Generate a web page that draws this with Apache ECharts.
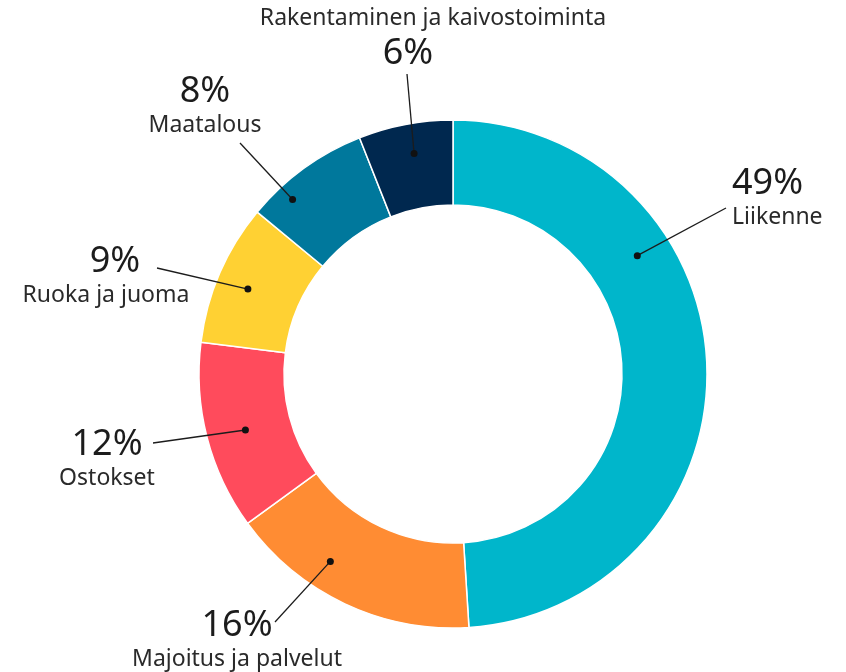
<!DOCTYPE html>
<html>
<head>
<meta charset="utf-8">
<script src="https://cdn.jsdelivr.net/npm/echarts@6/dist/echarts.min.js"></script>
<style>
  * { margin: 0; padding: 0; }
  body { background: #fff; }
  #main { width: 846px; height: 672px; }
</style>
</head>
<body>
<div id="main"></div>
<script>
  // data
  var categories = ['Liikenne', 'Majoitus ja palvelut', 'Ostokset', 'Ruoka ja juoma', 'Maatalous', 'Rakentaminen ja kaivostoiminta'];
  var shares = [49, 16, 12, 9, 8, 6];
  var colors = ['#00b6cb', '#ff8c33', '#ff4b5c', '#ffd133', '#00789c', '#00284f'];

  // label placement: leader dot as angle/radius on the ring, label box and line end in px
  var cx = 453, cy = 374;
  var labelPos = [
    { deg: 57.3, r: 219, end: [726, 208], x: 732, y: 198, align: 'left' },
    { deg: 213.2, r: 224, end: [275, 622], x: 237, y: 640, align: 'center' },
    { deg: 254.9, r: 215, end: [153, 443], x: 107, y: 459, align: 'center' },
    { deg: 292.5, r: 222, end: [157, 268], x: 106, y: 276, align: 'center' },
    { deg: 317.4, r: 237, end: [240, 143], x: 205, y: 106, align: 'center' },
    { deg: 350, r: 224, end: [407, 74], x: 433, y: 37, align: 'center' }
  ];

  var pieData = categories.map(function (name, i) {
    return { name: name, value: shares[i], itemStyle: { color: colors[i] } };
  });
  var dots = categories.map(function (name, i) {
    return { name: name, value: [labelPos[i].r, labelPos[i].deg] };
  });

  var chart = echarts.init(document.getElementById('main'));
  chart.setOption({
    animation: false,
    textStyle: { fontFamily: 'Noto Sans' },
    polar: { center: [cx, cy], radius: 254 },
    angleAxis: { type: 'value', min: 0, max: 360, startAngle: 90, clockwise: true, show: false },
    radiusAxis: { type: 'value', min: 0, max: 254, show: false },
    series: [
      {
        type: 'pie',
        center: [cx, cy],
        radius: [169, 254],
        startAngle: 90,
        clockwise: true,
        silent: true,
        itemStyle: { borderColor: '#fff', borderWidth: 1.5 },
        label: { show: false },
        labelLine: { show: false },
        data: pieData
      },
      {
        // leader lines from the dot to the label
        type: 'custom',
        coordinateSystem: 'polar',
        silent: true,
        z: 9,
        renderItem: function (params, api) {
          var c = api.coord([api.value(0), api.value(1)]);
          var e = labelPos[params.dataIndex].end;
          return {
            type: 'polyline',
            shape: { points: [c, e] },
            style: { stroke: '#1c1c1c', lineWidth: 1.3, fill: null }
          };
        },
        data: dots
      },
      {
        type: 'scatter',
        coordinateSystem: 'polar',
        symbol: 'circle',
        symbolSize: 7,
        itemStyle: { color: '#111', opacity: 1 },
        z: 10,
        silent: true,
        label: {
          show: true,
          position: 'top',
          color: '#1c1c1c',
          formatter: function (p) {
            var pct = shares[p.dataIndex] + '%';
            if (p.dataIndex === 5) return '{nt|' + p.name + '}\n{pr|' + pct + '}';
            if (p.dataIndex === 3) return '{pl|' + pct + '}\n{n|' + p.name + '}';
            return '{p|' + pct + '}\n{n|' + p.name + '}';
          },
          rich: {
            p: { fontSize: 36, lineHeight: 38, color: '#1c1c1c', fontFamily: 'Noto Sans' },
            pl: { fontSize: 36, lineHeight: 38, color: '#1c1c1c', fontFamily: 'Noto Sans', padding: [0, 0, 0, 18] },
            pr: { fontSize: 36, lineHeight: 38, color: '#1c1c1c', fontFamily: 'Noto Sans', padding: [0, 50, 0, 0] },
            n: { fontSize: 23, lineHeight: 28, color: '#2a2a2a', fontFamily: 'Noto Sans' },
            nt: { fontSize: 23, lineHeight: 34, color: '#2a2a2a', fontFamily: 'Noto Sans' }
          }
        },
        labelLayout: function (params) {
          var p = labelPos[params.dataIndex];
          return { x: p.x, y: p.y, align: p.align, verticalAlign: 'middle' };
        },
        data: dots
      }
    ]
  });
</script>
</body>
</html>
